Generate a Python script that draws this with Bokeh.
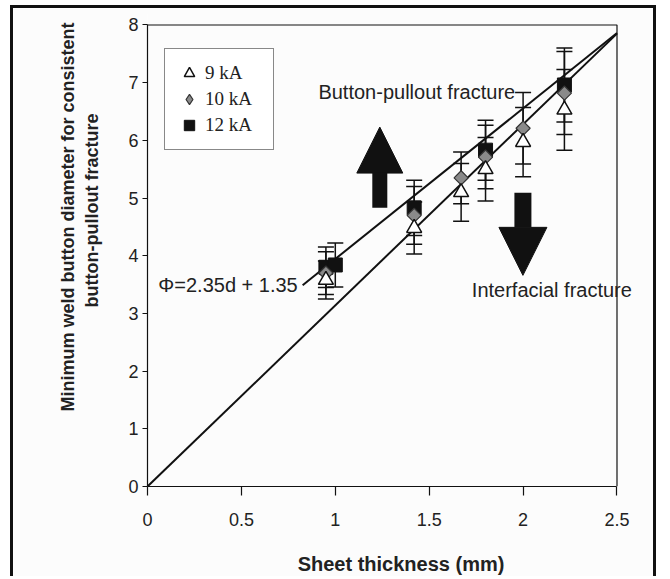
import numpy as np
from bokeh.plotting import figure
from bokeh.models import (Whisker, TeeHead, Arrow, NormalHead, Label, Legend, LegendItem,
                          FixedTicker, ColumnDataSource, Range1d, Title)
from bokeh.embed import file_html
from bokeh.resources import INLINE

# ---------------- data ----------------
thick_9 = [0.95, 1.42, 1.67, 1.80, 2.00, 2.22]
diam_9 = [3.58, 4.48, 5.10, 5.50, 5.97, 6.53]
err_9 = [0.33, 0.45, 0.50, 0.55, 0.60, 0.70]

thick_10 = [0.95, 1.42, 1.67, 1.80, 2.00, 2.22]
diam_10 = [3.70, 4.70, 5.35, 5.71, 6.21, 6.82]
err_10 = [0.37, 0.50, 0.45, 0.55, 0.62, 0.72]

thick_12 = [0.95, 1.00, 1.42, 1.80, 2.22]
diam_12 = [3.80, 3.84, 4.83, 5.83, 6.96]
err_12 = [0.35, 0.38, 0.48, 0.52, 0.64]

# boundary lines
origin_line_x = [0.0, 2.5]
origin_line_y = [0.0, 7.85]
eq_line_x = [0.826, 2.5]
eq_line_y = [3.49, 7.86]

xticks = [0, 0.5, 1, 1.5, 2, 2.5]
xtick_labels = ["0", "0.5", "1", "1.5", "2", "2.5"]
yticks = [0, 1, 2, 3, 4, 5, 6, 7, 8]
ytick_labels = ["0", "1", "2", "3", "4", "5", "6", "7", "8"]

series_labels = ["9 kA", "10 kA", "12 kA"]
y_label_lines = ["Minimum weld button diameter for consistent", "button-pullout fracture"]
x_label = "Sheet thickness (mm)"

SANS = "Liberation Sans"
SERIF = "Liberation Serif"
BG = "#fcfcfc"
INK = "#111111"

x_max = xticks[-1]
y_max = yticks[-1]
# the frame is a bit larger than the axes so that texts may run over the box
x_extra = 0.1997
y_extra = 0.199

p = figure(width=646, height=571,
           x_range=Range1d(0, x_max + x_extra), y_range=Range1d(0, y_max + y_extra),
           output_backend="svg", toolbar_location=None,
           min_border_left=134, min_border_right=5, min_border_top=5, min_border_bottom=93)
p.background_fill_color = BG
p.border_fill_color = BG
p.outline_line_color = None
p.xgrid.visible = False
p.ygrid.visible = False
p.styles = {"margin-left": "10px", "margin-top": "5px",
            "border-left": "3.5px solid #111111", "border-top": "3.5px solid #111111",
            "border-right": "3.5px solid #111111"}

p.xaxis.ticker = FixedTicker(ticks=xticks)
p.xaxis.major_label_overrides = {t: l for t, l in zip(xticks, xtick_labels)}
p.yaxis.ticker = FixedTicker(ticks=yticks)
p.yaxis.major_label_overrides = {t: l for t, l in zip(yticks, ytick_labels)}
p.xaxis.bounds = (0, x_max)
p.yaxis.bounds = (0, y_max)
for ax in (p.xaxis, p.yaxis):
    ax.axis_line_color = INK
    ax.axis_line_width = 1.2
    ax.major_tick_line_color = INK
    ax.major_tick_line_width = 1.2
    ax.major_tick_in = 0
    ax.minor_tick_line_color = None
    ax.major_label_text_font = SANS
    ax.major_label_text_font_size = "18px"
    ax.major_label_text_color = "#222222"
p.xaxis.major_tick_out = 9
p.xaxis.major_label_standoff = 17
p.yaxis.major_tick_out = 5
p.yaxis.major_label_standoff = 4

p.xaxis.axis_label = x_label
p.xaxis.axis_label_text_font = SANS
p.xaxis.axis_label_text_font_style = "bold"
p.xaxis.axis_label_text_font_size = "20px"
p.xaxis.axis_label_text_color = "#222222"
p.xaxis.axis_label_standoff = 24

# y-axis label: two lines, placed in the left panel (a tiny blank title makes the gap)
gap = Title(text=" ", standoff=20, text_font=SANS, text_font_size="1px")
t2 = Title(text=y_label_lines[1], align="right", offset=100, standoff=2,
           text_font=SANS, text_font_style="bold", text_font_size="18px",
           text_color="#222222")
t1 = Title(text=y_label_lines[0], align="right", offset=9, standoff=1,
           text_font=SANS, text_font_style="bold", text_font_size="18px",
           text_color="#222222")
p.add_layout(gap, "left")
p.add_layout(t2, "left")
p.add_layout(t1, "left")

# top and right edges of the axes box
p.line([0, x_max, x_max], [y_max, y_max, 0], line_color=INK, line_width=1.2)

# lines
p.line(origin_line_x, origin_line_y, line_color=INK, line_width=2)
p.line(eq_line_x, eq_line_y, line_color=INK, line_width=2)

# error bars
def whiskers(xs, ys, es):
    src = ColumnDataSource(dict(x=xs, upper=[y + e for y, e in zip(ys, es)],
                                lower=[y - e for y, e in zip(ys, es)]))
    w = Whisker(base="x", upper="upper", lower="lower", source=src, dimension="height",
                line_color=INK, line_width=1.5,
                upper_head=TeeHead(size=16, line_color=INK, line_width=1.5),
                lower_head=TeeHead(size=16, line_color=INK, line_width=1.5),
                level="underlay")
    p.add_layout(w)

whiskers(thick_12, diam_12, err_12)
whiskers(thick_10, diam_10, err_10)
whiskers(thick_9, diam_9, err_9)

r12 = p.scatter(thick_12, diam_12, marker="square", size=14, fill_color=INK,
                line_color=INK, line_width=1)
r10 = p.scatter(thick_10, diam_10, marker="square", angle=np.pi / 4, size=10,
                fill_color="#8a8a8a", line_color="#333333", line_width=1.2)
r9 = p.scatter(thick_9, diam_9, marker="triangle", size=15, fill_color="white",
               line_color=INK, line_width=1.5)
# hidden twin of the 10 kA points, used only as the legend sample (a diamond)
r10_key = p.scatter(thick_10, diam_10, marker="diamond", size=15, visible=False,
                    fill_color="#8a8a8a", line_color="#333333", line_width=1.2)

legend = Legend(items=[LegendItem(label=series_labels[0], renderers=[r9]),
                       LegendItem(label=series_labels[1], renderers=[r10_key]),
                       LegendItem(label=series_labels[2], renderers=[r12])],
                location=(17, 336), padding=11, spacing=0, glyph_width=26,
                glyph_height=26, label_height=26, label_width=57, label_standoff=3,
                label_text_font=SERIF, label_text_font_size="19px",
                label_text_color="#222222", border_line_color=INK,
                border_line_width=1.5, background_fill_color="white",
                background_fill_alpha=1.0, margin=0,
                inactive_fill_alpha=0.0, click_policy="none")
p.add_layout(legend)

# annotations
p.add_layout(Label(x=0.80, y=3.49, text="\u03a6=2.35d + 1.35", text_align="right",
                   text_baseline="middle", text_font=SANS, text_font_size="20px",
                   text_color="#222222"))
p.add_layout(Label(x=0.91, y=6.84, text="Button-pullout fracture", text_align="left",
                   text_baseline="middle", text_font=SANS, text_font_size="20px",
                   text_color="#222222"))
p.add_layout(Label(x=1.727, y=3.40, text="Interfacial fracture", text_align="left",
                   text_baseline="middle", text_font=SANS, text_font_size="20px",
                   text_color="#222222"))

p.add_layout(Arrow(x_start=1.237, y_start=4.83, x_end=1.237, y_end=6.23,
                   line_width=15, line_color=INK,
                   end=NormalHead(size=46, fill_color=INK, line_color=INK)))
p.add_layout(Arrow(x_start=1.999, y_start=5.09, x_end=1.999, y_end=3.66,
                   line_width=17, line_color=INK,
                   end=NormalHead(size=48, fill_color=INK, line_color=INK)))

open("out.html", "w").write(file_html(p, INLINE))
